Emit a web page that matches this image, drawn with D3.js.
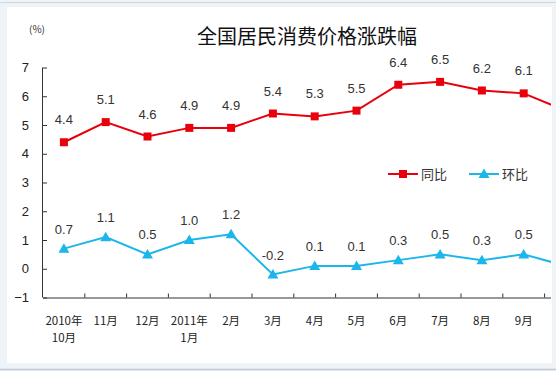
<!DOCTYPE html>
<html>
<head>
<meta charset="utf-8">
<script src="https://cdn.jsdelivr.net/npm/d3@7"></script>
<style>
  html, body { margin: 0; padding: 0; background: #fff; }
  svg { display: block; }
</style>
</head>
<body>
<script>
// data: months Oct 2010 .. Oct 2011 (last one is cut off by the frame)
const months = ["2010年\n10月", "11月", "12月", "2011年\n1月", "2月", "3月", "4月", "5月", "6月", "7月", "8月", "9月", "10月"];
const yoy = [4.4, 5.1, 4.6, 4.9, 4.9, 5.4, 5.3, 5.5, 6.4, 6.5, 6.2, 6.1, 5.5];
const mom = [0.7, 1.1, 0.5, 1.0, 1.2, -0.2, 0.1, 0.1, 0.3, 0.5, 0.3, 0.5, 0.1];
const yTicks = [-1, 0, 1, 2, 3, 4, 5, 6, 7];
const visible = 12; // months shown inside the frame

const width = 556, height = 371;
const red = "#e8000b", blue = "#1cb6ea";
const numFont = "'Liberation Sans', Arial, sans-serif";
const cjkFont = "'Noto Sans CJK SC', sans-serif";

const svg = d3.select("body").append("svg")
  .attr("width", width)
  .attr("height", height);

// frame
svg.append("rect").attr("width", width).attr("height", height).attr("fill", "#eef3f8");
svg.append("line").attr("x1", 0).attr("x2", width).attr("y1", 2.5).attr("y2", 2.5)
  .attr("stroke", "#cfd6de").attr("stroke-width", 1);
svg.append("line").attr("x1", 0).attr("x2", width).attr("y1", 369.5).attr("y2", 369.5)
  .attr("stroke", "#c3c9d0").attr("stroke-width", 1.5);
svg.append("rect").attr("x", 7).attr("y", 7).attr("width", 545).attr("height", 356).attr("fill", "#fff");

// scales
const left = 43, band = 41.8;
const x = d3.scaleBand()
  .domain(d3.range(months.length))
  .range([left, left + band * months.length]);
const y = d3.scaleLinear().domain([-1, 7]).range([297.5, 67.5]);

svg.append("defs").append("clipPath").attr("id", "clip")
  .append("rect").attr("x", 0).attr("y", 0).attr("width", 551).attr("height", height);

const plot = svg.append("g").attr("clip-path", "url(#clip)");

// y axis
const yAxis = svg.append("g")
  .attr("transform", `translate(${left},0)`)
  .call(d3.axisLeft(y).tickValues(yTicks).tickSize(-4).tickPadding(14).tickFormat(d3.format("d")));
yAxis.select(".domain").attr("stroke", "#333").attr("d", `M-0.5,${y(7)}V${y(-1)}`);
yAxis.selectAll(".tick line").attr("stroke", "#333");
yAxis.selectAll("text").attr("font-family", numFont).attr("font-size", 13).attr("fill", "#222");

// x axis
const xAxis = plot.append("g")
  .attr("transform", `translate(0,${y(-1)})`)
  .call(d3.axisBottom(x).tickSize(0).tickFormat(""));
xAxis.select(".domain").attr("stroke", "#333").attr("d", `M${left},0.5H${width}`);
// inner ticks at band boundaries
plot.append("g").selectAll("line")
  .data(d3.range(1, months.length))
  .join("line")
  .attr("x1", i => x(i)).attr("x2", i => x(i))
  .attr("y1", y(-1)).attr("y2", y(-1) - 4)
  .attr("stroke", "#333");

// x labels
const xl = svg.append("g").selectAll("text")
  .data(months.slice(0, visible))
  .join("text")
  .attr("x", (d, i) => x(i) + x.bandwidth() / 2)
  .attr("y", 325)
  .attr("text-anchor", "middle")
  .attr("font-family", cjkFont)
  .attr("font-size", 11.5)
  .attr("fill", "#222");
xl.selectAll("tspan")
  .data(d => d.split("\n"))
  .join("tspan")
  .attr("x", function () { return this.parentNode.getAttribute("x"); })
  .attr("dy", (d, i) => i === 0 ? 0 : 17)
  .text(d => d);

const cx = i => x(i) + x.bandwidth() / 2;

function drawSeries(values, color, marker, labelOffset) {
  const line = d3.line().x((d, i) => cx(i)).y(d => y(d));
  plot.append("path")
    .datum(values)
    .attr("d", line)
    .attr("fill", "none")
    .attr("stroke", color)
    .attr("stroke-width", 2);
  plot.append("g").selectAll("path")
    .data(values.slice(0, visible))
    .join("path")
    .attr("transform", (d, i) => `translate(${cx(i)},${y(d)})`)
    .attr("d", marker)
    .attr("fill", color);
  svg.append("g").selectAll("text")
    .data(values.slice(0, visible))
    .join("text")
    .attr("x", (d, i) => cx(i))
    .attr("y", d => y(d) - labelOffset)
    .attr("text-anchor", "middle")
    .attr("font-family", numFont)
    .attr("font-size", 13)
    .attr("fill", "#333")
    .text(d => d.toFixed(1));
}

const square = d3.symbol(d3.symbolSquare, 64)();
const triangle = "M0,-5.5L5.5,4L-5.5,4Z";
drawSeries(yoy, red, square, 18);
drawSeries(mom, blue, triangle, 15);

// title
svg.append("text")
  .attr("x", 307).attr("y", 44)
  .attr("text-anchor", "middle")
  .attr("font-family", cjkFont)
  .attr("font-size", 20)
  .attr("fill", "#111")
  .text("全国居民消费价格涨跌幅");

svg.append("text")
  .attr("x", 37).attr("y", 33)
  .attr("text-anchor", "middle")
  .attr("font-family", cjkFont)
  .attr("font-size", 10)
  .attr("fill", "#333")
  .text("(%)");

// legend
const legend = [
  { name: "同比", color: red, marker: square, x: 388 },
  { name: "环比", color: blue, marker: triangle, x: 469 }
];
const lg = svg.append("g").selectAll("g")
  .data(legend)
  .join("g")
  .attr("transform", d => `translate(${d.x},174)`);
lg.append("line").attr("x1", 0).attr("x2", 30).attr("stroke", d => d.color).attr("stroke-width", 2);
lg.append("path").attr("transform", "translate(15,0)").attr("d", d => d.marker).attr("fill", d => d.color);
lg.append("text")
  .attr("x", 33).attr("y", 5)
  .attr("font-family", cjkFont)
  .attr("font-size", 13)
  .attr("fill", "#333")
  .text(d => d.name);
</script>
</body>
</html>
